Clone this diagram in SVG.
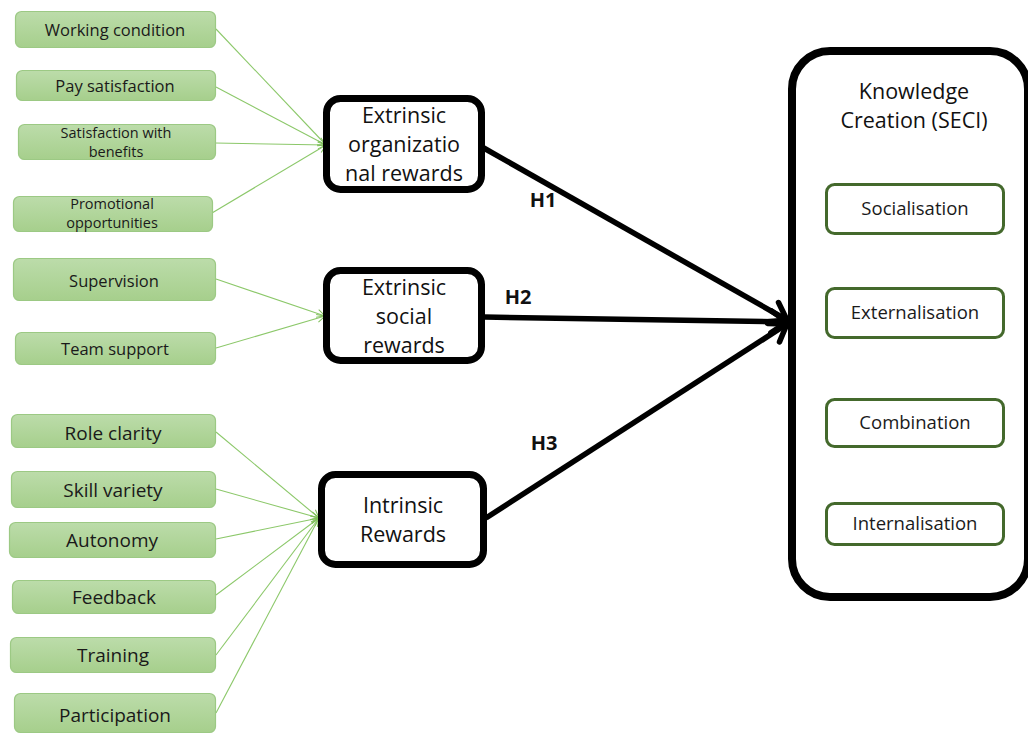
<svg xmlns="http://www.w3.org/2000/svg" width="1028" height="734" viewBox="0 0 1028 734">
  <defs>
    <linearGradient id="gfill" x1="0" y1="0" x2="0" y2="1">
      <stop offset="0" stop-color="#bcdcaa"/>
      <stop offset="1" stop-color="#a6cf8c"/>
    </linearGradient>
    <marker id="garrow" viewBox="-10 -6 12 12" markerWidth="12" markerHeight="12" refX="0" refY="0" orient="auto" markerUnits="userSpaceOnUse">
      <path d="M-8,-4 L0,0 L-8,4" fill="none" stroke="#7fbf5a" stroke-width="1"/>
    </marker>
    <marker id="barrow" viewBox="-22 -14 26 28" markerWidth="26" markerHeight="28" refX="0" refY="0" orient="auto" markerUnits="userSpaceOnUse">
      <path d="M-16,-11 L0,0 L-16,11" fill="none" stroke="#000" stroke-width="5.5" stroke-linecap="round" stroke-linejoin="round"/>
    </marker>
  </defs>
  <style>
    .gbox { fill: url(#gfill); stroke: #9cc984; stroke-width: 1.2; }
    .gt { font-family: "Open Sans", "Noto Sans", sans-serif; fill: #1a1a1a; text-anchor: middle; }
    .mbox { fill: #fff; stroke: #000; stroke-width: 7; }
    .mt { font-family: "Open Sans", "Noto Sans", sans-serif; font-size: 21.5px; fill: #111; text-anchor: middle; }
    .ibox { fill: #fff; stroke: #44692c; stroke-width: 3; }
    .it { font-family: "Open Sans", "Noto Sans", sans-serif; font-size: 18.5px; fill: #1a1a1a; text-anchor: middle; }
    .gl { stroke: #8cc86a; stroke-width: 1.1; fill: none; marker-end: url(#garrow); }
    .bl { stroke: #000; stroke-width: 5.5; fill: none; marker-end: url(#barrow); }
    .hl { font-family: "Open Sans", "Noto Sans", sans-serif; font-size: 20px; font-weight: bold; fill: #111; text-anchor: middle; }
  </style>

  <!-- Knowledge creation container -->
  <g id="knowledge-creation">
    <rect x="792" y="51" width="236" height="546" rx="38" fill="#fff" stroke="#000" stroke-width="8"/>
    <text class="mt" x="914" y="99">Knowledge</text>
    <text class="mt" x="914" y="128">Creation (SECI)</text>
  </g>
  <g id="socialisation">
    <rect class="ibox" x="826.5" y="184.5" width="177" height="49" rx="8"/>
    <text class="it" x="915" y="215">Socialisation</text>
  </g>
  <g id="externalisation">
    <rect class="ibox" x="826.5" y="288.5" width="177" height="49" rx="8"/>
    <text class="it" x="915" y="319">Externalisation</text>
  </g>
  <g id="combination">
    <rect class="ibox" x="826.5" y="399.5" width="177" height="47" rx="8"/>
    <text class="it" x="915" y="429">Combination</text>
  </g>
  <g id="internalisation">
    <rect class="ibox" x="826.5" y="503.5" width="177" height="41" rx="8"/>
    <text class="it" x="915" y="530">Internalisation</text>
  </g>

  <!-- Connectors -->
  <g id="connectors">
    <line class="gl" x1="216" y1="29" x2="326" y2="145"/>
    <line class="gl" x1="216" y1="87" x2="326" y2="145"/>
    <line class="gl" x1="215" y1="143" x2="326" y2="145"/>
    <line class="gl" x1="212" y1="213" x2="326" y2="145"/>
    <line class="gl" x1="216" y1="279" x2="325" y2="316"/>
    <line class="gl" x1="216" y1="348" x2="325" y2="316"/>
    <line class="gl" x1="216" y1="432" x2="319" y2="518"/>
    <line class="gl" x1="216" y1="489" x2="319" y2="518"/>
    <line class="gl" x1="216" y1="539" x2="319" y2="518"/>
    <line class="gl" x1="216" y1="595" x2="319" y2="518"/>
    <line class="gl" x1="216" y1="655" x2="319" y2="518"/>
    <line class="gl" x1="216" y1="713" x2="319" y2="518"/>
    <line class="bl" x1="482" y1="147" x2="787" y2="320"/>
    <line class="bl" x1="484" y1="317" x2="787" y2="322"/>
    <line class="bl" x1="486" y1="518" x2="787" y2="324"/>
    <text class="hl" x="543" y="207">H1</text>
    <text class="hl" x="518" y="304">H2</text>
    <text class="hl" x="544" y="450">H3</text>
  </g>

  <!-- Mediators -->
  <g id="extrinsic-organizational">
    <rect class="mbox" x="326.5" y="98.5" width="155" height="91" rx="14"/>
    <text class="mt" x="404" y="123">Extrinsic</text>
    <text class="mt" x="404" y="152">organizatio</text>
    <text class="mt" x="404" y="181">nal rewards</text>
  </g>
  <g id="extrinsic-social">
    <rect class="mbox" x="326.5" y="270.5" width="155" height="90" rx="14"/>
    <text class="mt" x="404" y="295">Extrinsic</text>
    <text class="mt" x="404" y="324">social</text>
    <text class="mt" x="404" y="353">rewards</text>
  </g>
  <g id="intrinsic-rewards">
    <rect class="mbox" x="321.5" y="474.5" width="162" height="90" rx="14"/>
    <text class="mt" x="403" y="513">Intrinsic</text>
    <text class="mt" x="403" y="542">Rewards</text>
  </g>

  <!-- Indicators -->
  <g id="working-condition">
    <rect class="gbox" x="15.5" y="11.5" width="200" height="36" rx="6"/>
    <text class="gt" x="115" y="36" style="font-size:16.5px">Working condition</text>
  </g>
  <g id="pay-satisfaction">
    <rect class="gbox" x="16.5" y="70.5" width="199" height="30" rx="6"/>
    <text class="gt" x="115" y="92" style="font-size:16.5px">Pay satisfaction</text>
  </g>
  <g id="satisfaction-benefits">
    <rect class="gbox" x="18.5" y="124.5" width="197" height="35" rx="6"/>
    <text class="gt" x="116" y="138" style="font-size:14.5px">Satisfaction with</text>
    <text class="gt" x="116" y="157" style="font-size:14.5px">benefits</text>
  </g>
  <g id="promotional-opportunities">
    <rect class="gbox" x="13.5" y="196.5" width="199" height="35" rx="6"/>
    <text class="gt" x="112" y="209" style="font-size:14.5px">Promotional</text>
    <text class="gt" x="112" y="228" style="font-size:14.5px">opportunities</text>
  </g>
  <g id="supervision">
    <rect class="gbox" x="13.5" y="258.5" width="202" height="42" rx="6"/>
    <text class="gt" x="114" y="287" style="font-size:16.5px">Supervision</text>
  </g>
  <g id="team-support">
    <rect class="gbox" x="15.5" y="332.5" width="200" height="32" rx="6"/>
    <text class="gt" x="115" y="355" style="font-size:16.5px">Team support</text>
  </g>
  <g id="role-clarity">
    <rect class="gbox" x="11.5" y="414.5" width="204" height="33" rx="6"/>
    <text class="gt" x="113" y="440" style="font-size:19px">Role clarity</text>
  </g>
  <g id="skill-variety">
    <rect class="gbox" x="11.5" y="471.5" width="204" height="36" rx="6"/>
    <text class="gt" x="113" y="497" style="font-size:19px">Skill variety</text>
  </g>
  <g id="autonomy">
    <rect class="gbox" x="9.5" y="522.5" width="206" height="35" rx="6"/>
    <text class="gt" x="112" y="547" style="font-size:19px">Autonomy</text>
  </g>
  <g id="feedback">
    <rect class="gbox" x="12.5" y="580.5" width="203" height="33" rx="6"/>
    <text class="gt" x="114" y="604" style="font-size:19px">Feedback</text>
  </g>
  <g id="training">
    <rect class="gbox" x="10.5" y="637.5" width="205" height="35" rx="6"/>
    <text class="gt" x="113" y="662" style="font-size:19px">Training</text>
  </g>
  <g id="participation">
    <rect class="gbox" x="14.5" y="693.5" width="201" height="39" rx="6"/>
    <text class="gt" x="115" y="722" style="font-size:19px">Participation</text>
  </g>
</svg>
